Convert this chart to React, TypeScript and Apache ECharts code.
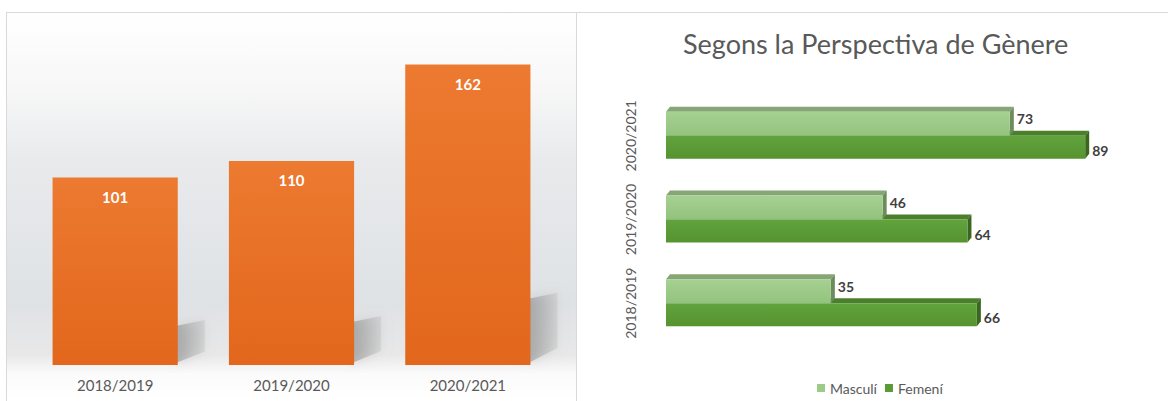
import React, { useEffect, useRef } from "react";
import * as echarts from "echarts";

const categories = ["2018/2019", "2019/2020", "2020/2021"];
const totals = [101, 110, 162];
const masculi = [35, 46, 73];
const femeni = [66, 64, 89];
const chartTitle = "Segons la Perspectiva de Gènere";
const seriesNames = ["Masculí", "Femení"];

const FONT = "Lato, 'Open Sans', sans-serif";
const TEXT = "#595959";

const mColors = { front: ["#a6d191", "#93c27e"], top: "#86a676", side: "#6c8c5e" };
const fColors = { front: ["#62a33e", "#55932f"], top: "#4a7f2b", side: "#3a6620" };

function make3DBar(kind: "m" | "f") {
  const c = kind === "m" ? mColors : fColors;
  return (params: any, api: any) => {
    const val = api.value(0);
    const cat = api.value(1);
    const base = api.coord([0, cat]);
    const end = api.coord([val, cat]);
    const yc = base[1];
    const y0 = kind === "m" ? yc - 24 : yc;
    const y1 = kind === "m" ? yc : yc + 23;
    const x0 = base[0];
    const x1 = end[0];
    const dx = 4;
    const dy = 5;
    return {
      type: "group",
      children: [
        {
          type: "polygon",
          shape: { points: [[x0, y0], [x1, y0], [x1 + dx, y0 - dy], [x0 + dx, y0 - dy]] },
          style: { fill: c.top },
        },
        {
          type: "polygon",
          shape: { points: [[x1, y0], [x1 + dx, y0 - dy], [x1 + dx, y1 - dy], [x1, y1]] },
          style: { fill: c.side },
        },
        {
          type: "rect",
          shape: { x: x0, y: y0, width: x1 - x0, height: y1 - y0 },
          style: {
            fill: new echarts.graphic.LinearGradient(0, 0, 0, 1, [
              { offset: 0, color: c.front[0] },
              { offset: 1, color: c.front[1] },
            ]),
          },
        },
        {
          type: "text",
          style: {
            text: String(val),
            x: x1 + dx + 3,
            y: kind === "m" ? (y0 + y1) / 2 - 5 : (y0 + y1) / 2 + 3,
            fill: "#404040",
            fontSize: 14,
            fontWeight: "bold",
            fontFamily: FONT,
            align: "left",
            verticalAlign: "middle",
          },
        },
      ],
    };
  };
}

function shadowItem(params: any, api: any) {
  const idx = api.value(0);
  const val = api.value(1);
  const top = api.coord([idx, val]);
  const base = api.coord([idx, 0]);
  const band = api.size([1, 0])[0];
  const bw = band * 0.71;
  const x1 = top[0] + bw / 2;
  const h = base[1] - top[1];
  const yTop = base[1] - 0.24 * h;
  const yBot = base[1] - 0.03 * h;
  return {
    type: "polygon",
    shape: {
      points: [
        [x1 - 2, yTop + 6],
        [x1 + 27, yTop],
        [x1 + 27, yBot - 8],
        [x1 - 2, base[1] - 2],
      ],
    },
    style: {
      fill: new echarts.graphic.LinearGradient(0, 0, 1, 0, [
        { offset: 0, color: "rgba(130,130,130,0.55)" },
        { offset: 1, color: "rgba(170,170,170,0.25)" },
      ]),
      shadowBlur: 12,
      shadowColor: "rgba(160,160,160,0.7)",
    },
  };
}

export default function App() {
  const ref = useRef<HTMLDivElement>(null);
  useEffect(() => {
    document.body.style.margin = "0";
    if (!ref.current) return;
    const chart = echarts.init(ref.current, null, { renderer: "svg" });
    chart.setOption({
      animation: false,
      backgroundColor: "#ffffff",
      title: {
        text: chartTitle,
        left: 678,
        top: 25,
        textStyle: { fontSize: 27, fontWeight: "normal", color: TEXT, fontFamily: FONT },
      },
      legend: {
        data: seriesNames,
        left: 812,
        top: 376,
        icon: "rect",
        itemWidth: 8,
        itemHeight: 8,
        itemGap: 8,
        textStyle: { color: TEXT, fontSize: 14, fontFamily: FONT },
      },
      graphic: [
        {
          type: "rect",
          z: 0,
          shape: { x: 7, y: 13, width: 569, height: 388 },
          style: {
            fill: new echarts.graphic.LinearGradient(0, 0, 0, 1, [
              { offset: 0, color: "#ffffff" },
              { offset: 0.2, color: "#f7f7f7" },
              { offset: 0.38, color: "#e8eaec" },
              { offset: 0.75, color: "#dfe2e5" },
              { offset: 0.88, color: "#e8e8e8" },
              { offset: 0.93, color: "#fbfbfb" },
              { offset: 1, color: "#ffffff" },
            ]),
          },
        },
        { type: "line", z: 10, shape: { x1: 6, y1: 12.5, x2: 1168, y2: 12.5 }, style: { stroke: "#d9d9d9", lineWidth: 1 } },
        { type: "line", z: 10, shape: { x1: 6.5, y1: 12, x2: 6.5, y2: 401 }, style: { stroke: "#d9d9d9", lineWidth: 1 } },
        { type: "line", z: 10, shape: { x1: 576.5, y1: 12, x2: 576.5, y2: 401 }, style: { stroke: "#d9d9d9", lineWidth: 1 } },
      ],
      grid: [
        { left: 27, right: 612, top: 31, bottom: 36 },
        { left: 666, right: 31, top: 94, bottom: 56 },
      ],
      xAxis: [
        {
          type: "category",
          gridIndex: 0,
          data: categories,
          axisLine: { show: false },
          axisTick: { show: false },
          axisLabel: { color: TEXT, fontSize: 15, fontFamily: FONT, margin: 12, interval: 0 },
        },
        { type: "value", gridIndex: 1, min: 0, max: 100, show: false },
      ],
      yAxis: [
        { type: "value", gridIndex: 0, min: 0, max: 180, show: false },
        {
          type: "category",
          gridIndex: 1,
          data: categories,
          axisLine: { show: false },
          axisTick: { show: false },
          splitLine: { show: false },
          axisLabel: { color: TEXT, fontSize: 14, fontFamily: FONT, rotate: 90, margin: 29, interval: 0 },
        },
      ],
      series: [
        {
          type: "custom",
          name: "shadow",
          xAxisIndex: 0,
          yAxisIndex: 0,
          z: 1,
          silent: true,
          data: totals.map((v, i) => [i, v]),
          encode: { x: 0, y: 1 },
          renderItem: shadowItem,
        },
        {
          type: "bar",
          name: "Total",
          xAxisIndex: 0,
          yAxisIndex: 0,
          z: 2,
          barCategoryGap: "29%",
          data: totals,
          itemStyle: {
            color: new echarts.graphic.LinearGradient(0, 0, 0, 1, [
              { offset: 0, color: "#ec7a30" },
              { offset: 1, color: "#e2671c" },
            ]),
          },
          label: {
            show: true,
            position: "insideTop",
            distance: 12,
            color: "#ffffff",
            fontSize: 15,
            fontWeight: "bold",
            fontFamily: FONT,
          },
        },
        {
          type: "custom",
          name: seriesNames[1],
          xAxisIndex: 1,
          yAxisIndex: 1,
          z: 3,
          itemStyle: { color: "#5a9b37" },
          data: femeni.map((v, i) => [v, i]),
          encode: { x: 0, y: 1 },
          renderItem: make3DBar("f"),
        },
        {
          type: "custom",
          name: seriesNames[0],
          xAxisIndex: 1,
          yAxisIndex: 1,
          z: 4,
          itemStyle: { color: "#9ccb86" },
          data: masculi.map((v, i) => [v, i]),
          encode: { x: 0, y: 1 },
          renderItem: make3DBar("m"),
        },
      ],
    });
    return () => chart.dispose();
  }, []);
  return <div ref={ref} style={{ width: 1168, height: 401 }} />;
}
